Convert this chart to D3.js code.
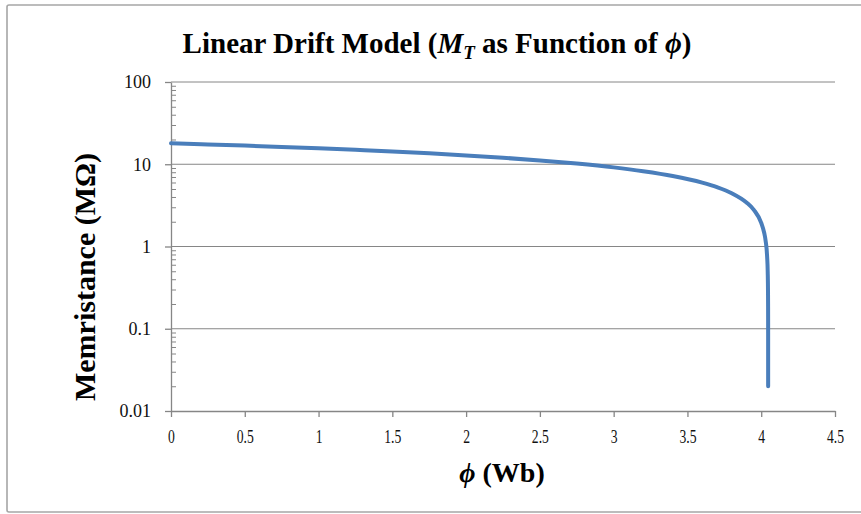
<!DOCTYPE html>
<html>
<head>
<meta charset="utf-8">
<script src="https://cdn.jsdelivr.net/npm/d3@7"></script>
<style>
  html, body { margin: 0; padding: 0; background: #fff; }
  svg { display: block; }
  text { font-family: "Liberation Serif", "Times New Roman", serif; }
</style>
</head>
<body>
<svg id="chart" width="861" height="514"></svg>
<script>
// Flux (Wb) samples and memristance (MΩ) along the linear drift curve
const phi = [0, 0.25, 0.5, 0.75, 1.0, 1.25, 1.5, 1.75, 2.0, 2.25, 2.5, 2.75, 3.0, 3.2, 3.4,
             3.6, 3.7, 3.8, 3.9, 3.95, 4.0, 4.02, 4.03, 4.04, 4.044, 4.046, 4.0465, 4.0468,
             4.0469, 4.04699];
const memristance = [18.0, 17.44, 16.85, 16.25, 15.62, 14.96, 14.28, 13.56, 12.80, 11.99,
                     11.13, 10.19, 9.16, 8.23, 7.20, 5.98, 5.27, 4.45, 3.43, 2.79, 1.94,
                     1.47, 1.17, 0.75, 0.49, 0.28, 0.20, 0.127, 0.089, 0.02];

const xTicks = [0, 0.5, 1, 1.5, 2, 2.5, 3, 3.5, 4, 4.5];
const xTickLabels = ["0", "0.5", "1", "1.5", "2", "2.5", "3", "3.5", "4", "4.5"];
const yTicks = [0.01, 0.1, 1, 10, 100];
const yTickLabels = ["0.01", "0.1", "1", "10", "100"];

const svg = d3.select("#chart");
const axisColor = "#868686";

// Outer frame
svg.append("rect")
  .attr("x", 7).attr("y", 5).attr("width", 880).attr("height", 507)
  .attr("rx", 2)
  .attr("fill", "#fff").attr("stroke", "#a6a6a6").attr("stroke-width", 1.6);

const x = d3.scaleLinear().domain([0, 4.5]).range([171, 835]);
const y = d3.scaleLog().domain([0.01, 100]).range([411, 82]);

// Horizontal gridlines at each decade
svg.append("g")
  .selectAll("line")
  .data(yTicks.slice(1))
  .join("line")
  .attr("x1", x(0)).attr("x2", x(4.5))
  .attr("y1", d => y(d)).attr("y2", d => y(d))
  .attr("stroke", axisColor).attr("stroke-width", 1);

// Minor log ticks (2..9 within each decade), pointing into the plot
const minor = [];
for (let e = -2; e < 2; e++) for (let m = 2; m <= 9; m++) minor.push(m * Math.pow(10, e));
const minorAxis = d3.axisLeft(y).tickValues(minor).tickSizeInner(-5).tickSizeOuter(0).tickFormat("");
const gMinor = svg.append("g").attr("transform", `translate(${x(0)},0)`).call(minorAxis);
gMinor.select(".domain").remove();
gMinor.selectAll("line").attr("stroke", axisColor);

// Y axis
const yAxis = d3.axisLeft(y).tickValues(yTicks).tickSizeInner(6).tickSizeOuter(0)
  .tickFormat((d, i) => yTickLabels[i]).tickPadding(14);
const gy = svg.append("g").attr("transform", `translate(${x(0)},0)`).call(yAxis);
gy.select(".domain").attr("stroke", axisColor).attr("stroke-width", 1.3);
gy.selectAll(".tick line").attr("stroke", axisColor).attr("stroke-width", 1.3);
gy.selectAll(".tick text").attr("font-size", 18).attr("fill", "#111")
  .attr("font-family", "'Liberation Serif', serif");

// X axis (labels set in a narrow face)
const xAxis = d3.axisBottom(x).tickValues(xTicks).tickSizeInner(6).tickSizeOuter(0)
  .tickFormat((d, i) => xTickLabels[i]).tickPadding(13);
const gx = svg.append("g").attr("transform", `translate(0,${y(0.01)})`).call(xAxis);
gx.select(".domain").attr("stroke", axisColor).attr("stroke-width", 1.3);
gx.selectAll(".tick line").attr("stroke", axisColor).attr("stroke-width", 1.3);
gx.selectAll(".tick text").attr("font-size", 18).attr("fill", "#111")
  .attr("transform", "scale(0.76,1)")
  .attr("font-family", "'Liberation Serif', serif");

// Memristance curve
const pts = phi.map((p, i) => [p, memristance[i]]);
svg.append("path")
  .datum(pts)
  .attr("fill", "none")
  .attr("stroke", "#4a7ebb")
  .attr("stroke-width", 4)
  .attr("stroke-linecap", "round")
  .attr("stroke-linejoin", "round")
  .attr("d", d3.line().x(d => x(d[0])).y(d => y(d[1])).curve(d3.curveMonotoneX));

// Title
const title = svg.append("text")
  .attr("x", 437).attr("y", 53)
  .attr("text-anchor", "middle")
  .attr("font-size", 29).attr("font-weight", "bold").attr("fill", "#000");
title.append("tspan").text("Linear Drift Model (");
title.append("tspan").attr("font-style", "italic").text("M");
title.append("tspan").attr("font-style", "italic").attr("font-size", 19).attr("dy", 6).text("T");
title.append("tspan").attr("dy", -6).text(" as Function of ");
title.append("tspan").attr("font-style", "italic").text("\u03D5");
title.append("tspan").text(")");

// Axis titles
svg.append("text")
  .attr("transform", "translate(95,277) rotate(-90)")
  .attr("text-anchor", "middle")
  .attr("font-size", 30).attr("font-weight", "bold").attr("fill", "#000")
  .text("Memristance (M\u03A9)");

const xt = svg.append("text")
  .attr("x", 502).attr("y", 482)
  .attr("text-anchor", "middle")
  .attr("font-size", 28).attr("font-weight", "bold").attr("fill", "#000");
xt.append("tspan").attr("font-style", "italic").text("\u03D5");
xt.append("tspan").text(" (Wb)");
</script>
</body>
</html>
